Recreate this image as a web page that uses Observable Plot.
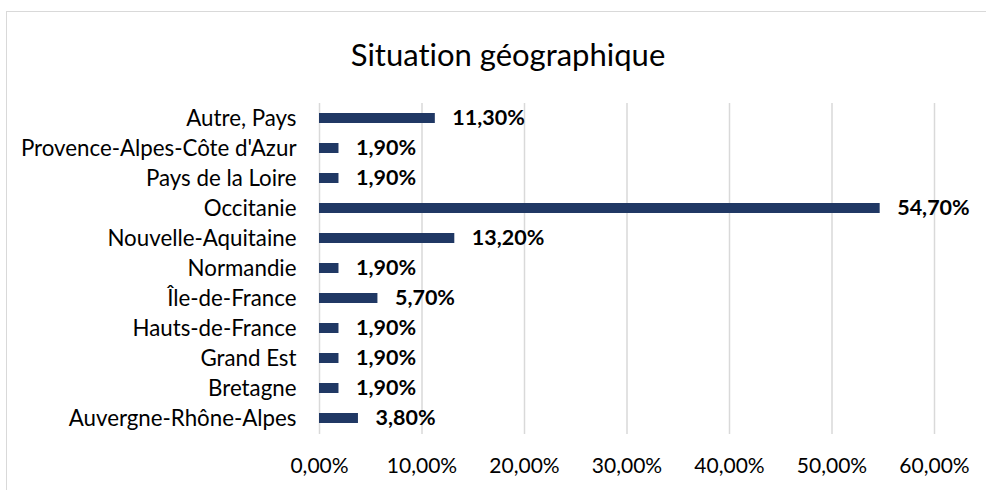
<!DOCTYPE html>
<html>
<head>
<meta charset="utf-8">
<script src="https://cdn.jsdelivr.net/npm/d3@7"></script>
<script src="https://cdn.jsdelivr.net/npm/@observablehq/plot@0.6"></script>
<style>
  html, body { margin: 0; padding: 0; background: #fff; overflow: hidden; }
  body { width: 986px; height: 490px; position: relative; font-family: Lato, "Open Sans", sans-serif; font-variant-ligatures: none; }
  #frame { position: absolute; left: 6px; top: 11px; width: 1000px; height: 500px; border: 1px solid #d9d9d9; box-sizing: border-box; }
  #title { position: absolute; left: 0; top: 34px; width: 1016px; text-align: center; font-size: 31px; color: #000; line-height: 40px; font-variant-ligatures: none; }
  #chart { position: absolute; left: 0; top: 85px; }
  svg text { font-variant-ligatures: none; }
</style>
</head>
<body>
<div id="frame"></div>
<div id="title">Situation géographique</div>
<div id="chart"></div>
<script>
const categories = [
  "Autre, Pays",
  "Provence-Alpes-Côte d'Azur",
  "Pays de la Loire",
  "Occitanie",
  "Nouvelle-Aquitaine",
  "Normandie",
  "Île-de-France",
  "Hauts-de-France",
  "Grand Est",
  "Bretagne",
  "Auvergne-Rhône-Alpes"
];
const values = [11.3, 1.9, 1.9, 54.7, 13.2, 1.9, 5.7, 1.9, 1.9, 1.9, 3.8];
const xTicks = [0, 10, 20, 30, 40, 50, 60];

const data = categories.map((c, i) => ({category: c, value: values[i]}));
const fmt = (d, digits) => d.toFixed(digits).replace(".", ",") + "%";

const chart = Plot.plot({
  width: 986,
  height: 405,
  marginLeft: 319,
  marginRight: 52,
  marginTop: 18,
  marginBottom: 56,
  style: {fontFamily: "Lato, 'Open Sans', sans-serif", color: "#000", background: "transparent"},
  x: {domain: [0, 60], ticks: xTicks},
  y: {domain: categories, paddingInner: 0.66, paddingOuter: 0.33},
  marks: [
    Plot.gridX(xTicks, {stroke: "#d9d9d9", strokeOpacity: 1, strokeWidth: 1.5}),
    Plot.barX(data, {x: "value", y: "category", fill: "#203864"}),
    Plot.text(data, {x: "value", y: "category", text: d => fmt(d.value, 2), dx: 17, textAnchor: "start", fontWeight: "bold", fontSize: 21.5, fill: "#000"}),
    Plot.axisX(xTicks, {tickSize: 0, tickPadding: 24, fontSize: 21, tickFormat: d => fmt(d, 2), label: null}),
    Plot.axisY({tickSize: 0, tickPadding: 23, fontSize: 22.3, label: null})
  ]
});
document.getElementById("chart").appendChild(chart);
</script>
</body>
</html>
